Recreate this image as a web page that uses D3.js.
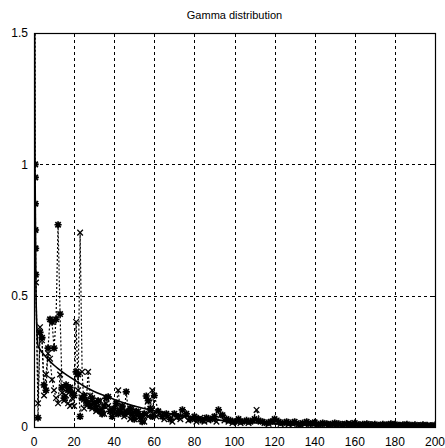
<!DOCTYPE html>
<html><head><meta charset="utf-8">
<script src="https://cdn.jsdelivr.net/npm/d3@7"></script>
<style>body{margin:0;background:#fff}svg{display:block}text{font-family:"Liberation Sans",Arial,sans-serif;fill:#000}</style>
</head><body><div id="chart"></div>
<script>
const title = "Gamma distribution";
const xTicks = [0,20,40,60,80,100,120,140,160,180,200];
const yTicks = [0,0.5,1,1.5];
const yTickLabels = ["0","0.5","1","1.5"];

// theoretical gamma pdf (solid line)
const curveX = [0.3,0.5,1,2,3,5,8,10,15,20,25,30,35,40,50,60,70,80,90,100,120,140,160,180,200];
const curveY = [1.6,1.0,0.5,0.31,0.295,0.275,0.25,0.235,0.205,0.18,0.155,0.135,0.12,0.105,0.08,0.062,0.048,0.037,0.028,0.021,0.012,0.007,0.004,0.0025,0.0015];

// estimate 1 ('*' markers, dashed)
const starX = [0.5,0.6,0.65,0.7,0.75,0.8,0.9].concat(d3.range(2,61), d3.range(62,201,2));
const starY = [2.0,1.0,0.95,0.85,0.75,0.68,0.58,
 0.035,0.36,0.34,0.16,0.14,0.30,0.41,0.40,0.30,0.41,
 0.77,0.43,0.15,0.11,0.16,0.14,0.15,0.13,0.12,0.21,
 0.20,0.04,0.11,0.12,0.10,0.09,0.08,0.11,0.09,0.07,
 0.10,0.06,0.05,0.08,0.11,0.115,0.06,0.04,0.07,0.09,
 0.05,0.06,0.08,0.05,0.134,0.06,0.07,0.05,0.03,0.06,
 0.05,0.04,0.02,0.05,0.118,0.10,0.07,0.04,0.12,
 0.06,0.04,0.05,0.03,0.05,0.04,0.065,0.05,0.03,0.04,
 0.03,0.025,0.035,0.03,0.04,0.065,0.045,0.03,0.025,0.02,
 0.03,0.02,0.025,0.02,0.03,0.025,0.02,0.015,0.02,0.03,
 0.02,0.015,0.02,0.015,0.02,0.01,0.015,0.02,0.012,0.018,
 0.01,0.015,0.012,0.01,0.015,0.012,0.008,0.012,0.01,0.015,
 0.008,0.01,0.012,0.008,0.01,0.006,0.01,0.008,0.012,0.01,
 0.006,0.008,0.01,0.006,0.008,0.005,0.008,0.006,0.005,0.007];

// estimate 2 ('x' markers, dashed)
const crossX = d3.range(1,61).concat(d3.range(61,200,2));
const crossY = [0.55,0.09,0.38,0.33,0.12,0.20,0.28,0.26,0.18,0.14,
 0.11,0.09,0.20,0.13,0.10,0.12,0.09,0.08,0.11,0.08,
 0.40,0.14,0.74,0.21,0.07,0.09,0.21,0.12,0.07,0.09,
 0.06,0.08,0.10,0.07,0.05,0.09,0.08,0.06,0.07,0.05,
 0.08,0.14,0.06,0.07,0.04,0.06,0.05,0.03,0.07,0.04,
 0.05,0.06,0.03,0.04,0.02,0.05,0.04,0.06,0.14,0.05,
 0.04,0.05,0.03,0.04,0.02,0.035,0.03,0.04,0.025,0.03,
 0.02,0.035,0.02,0.025,0.03,0.02,0.045,0.025,0.02,0.015,
 0.02,0.015,0.02,0.015,0.025,0.065,0.02,0.015,0.012,0.02,
 0.025,0.012,0.015,0.01,0.012,0.015,0.008,0.012,0.01,0.015,
 0.008,0.01,0.012,0.008,0.01,0.006,0.01,0.012,0.015,0.008,
 0.01,0.006,0.008,0.01,0.006,0.008,0.005,0.008,0.006,0.01,
 0.008,0.005,0.007,0.006,0.004,0.006,0.005,0.007,0.004,0.005];

const W = 445, H = 448;
const m = {left:34, top:33, right:10, bottom:21};
const svg = d3.select("#chart").append("svg").attr("width",W).attr("height",H);
const x = d3.scaleLinear().domain([0,200]).range([m.left, W-m.right]);
const y = d3.scaleLinear().domain([0,1.5]).range([H-m.bottom, m.top]);

svg.append("clipPath").attr("id","clip").append("rect")
  .attr("x",m.left).attr("y",m.top).attr("width",x(200)-x(0)).attr("height",y(0)-y(1.5));

// grid
const grid = svg.append("g").attr("stroke","#000").attr("stroke-width",1).attr("stroke-dasharray","3,3");
grid.selectAll(".gx").data(xTicks.slice(1,-1)).join("line")
  .attr("x1",d=>Math.round(x(d))+0.5).attr("x2",d=>Math.round(x(d))+0.5)
  .attr("y1",y(0)).attr("y2",y(1.5));
grid.selectAll(".gy").data(yTicks.slice(1,-1)).join("line")
  .attr("y1",d=>Math.round(y(d))+0.5).attr("y2",d=>Math.round(y(d))+0.5)
  .attr("x1",x(0)).attr("x2",x(200));

const plot = svg.append("g").attr("clip-path","url(#clip)");

// dashed estimate lines
const lineGen = d3.line().x(d=>x(d[0])).y(d=>y(d[1]));
const starData = starX.map((v,i)=>[v,starY[i]]);
const crossData = crossX.map((v,i)=>[v,crossY[i]]);
plot.append("path").datum(starData).attr("d",lineGen)
  .attr("fill","none").attr("stroke","#000").attr("stroke-width",1.2).attr("stroke-dasharray","2,2");
plot.append("path").datum(crossData).attr("d",lineGen)
  .attr("fill","none").attr("stroke","#000").attr("stroke-width",1.2).attr("stroke-dasharray","2,2");

// solid curve
const curveData = curveX.map((v,i)=>[v,curveY[i]]);
plot.append("path").datum(curveData)
  .attr("d",d3.line().x(d=>x(d[0])).y(d=>y(d[1])).curve(d3.curveMonotoneX))
  .attr("fill","none").attr("stroke","#000").attr("stroke-width",1.6);

// markers
const s = 3.6;
plot.append("g").selectAll("path").data(starData).join("path")
  .attr("transform",d=>`translate(${x(d[0])},${y(d[1])})`)
  .attr("d",`M${-s},0H${s}M0,${-s}V${s}M${-s*0.75},${-s*0.75}L${s*0.75},${s*0.75}M${-s*0.75},${s*0.75}L${s*0.75},${-s*0.75}`)
  .attr("stroke","#000").attr("stroke-width",1.7).attr("fill","none");
const c = 2.8;
plot.append("g").selectAll("path").data(crossData).join("path")
  .attr("transform",d=>`translate(${x(d[0])},${y(d[1])})`)
  .attr("d",`M${-c},${-c}L${c},${c}M${-c},${c}L${c},${-c}`)
  .attr("stroke","#000").attr("stroke-width",1.3).attr("fill","none");

// axes box
svg.append("rect").attr("x",x(0)+0.5).attr("y",y(1.5)+0.5)
  .attr("width",x(200)-x(0)).attr("height",y(0)-y(1.5))
  .attr("fill","none").attr("stroke","#000").attr("stroke-width",1.2);

// inward ticks
const tk = svg.append("g").attr("stroke","#000").attr("stroke-width",1);
xTicks.forEach(t=>{
  const px = Math.round(x(t))+0.5;
  tk.append("line").attr("x1",px).attr("x2",px).attr("y1",y(0)).attr("y2",y(0)-4);
  tk.append("line").attr("x1",px).attr("x2",px).attr("y1",y(1.5)).attr("y2",y(1.5)+4);
});
yTicks.forEach(t=>{
  const py = Math.round(y(t))+0.5;
  tk.append("line").attr("x1",x(0)).attr("x2",x(0)+4).attr("y1",py).attr("y2",py);
  tk.append("line").attr("x1",x(200)).attr("x2",x(200)-4).attr("y1",py).attr("y2",py);
});

// tick labels
svg.append("g").selectAll("text").data(xTicks).join("text")
  .attr("x",d=>x(d)).attr("y",446).attr("text-anchor","middle")
  .attr("font-size",12).text(d=>d);
svg.append("g").selectAll("text").data(yTicks).join("text")
  .attr("x",28).attr("y",d=>y(d)).attr("dy","0.35em").attr("text-anchor","end")
  .attr("font-size",12).text((d,i)=>yTickLabels[i]);

// title
svg.append("text").attr("x",(x(0)+x(200))/2).attr("y",19).attr("text-anchor","middle")
  .attr("font-size",11).text(title);
</script>
</body></html>
